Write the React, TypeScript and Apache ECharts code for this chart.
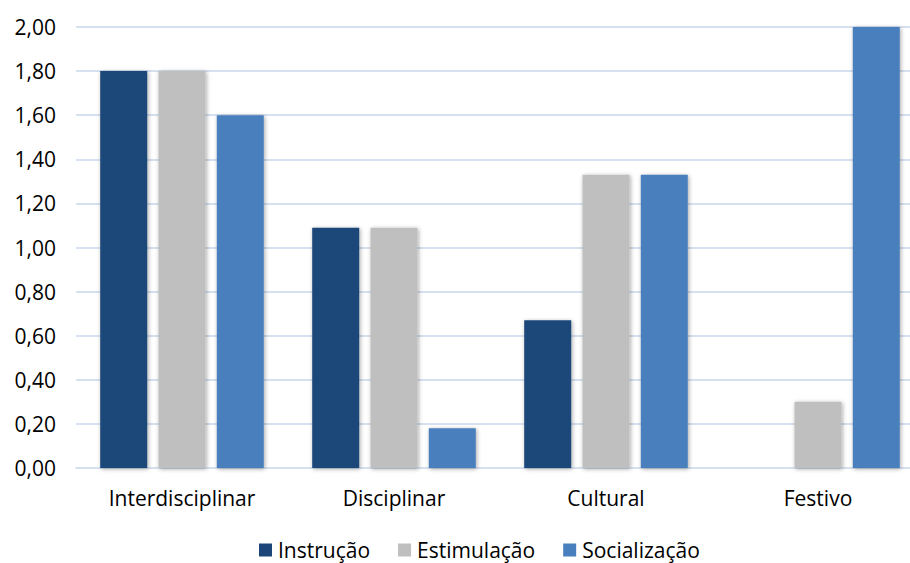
import React, { useEffect, useRef } from "react";
import * as echarts from "echarts";

const categories = ["Interdisciplinar", "Disciplinar", "Cultural", "Festivo"];
const seriesNames = ["Instrução", "Estimulação", "Socialização"];
const instrucao = [1.8, 1.09, 0.67, 0];
const estimulacao = [1.8, 1.09, 1.33, 0.3];
const socializacao = [1.6, 0.18, 1.33, 2.0];
const colors = ["#1C4679", "#BFBFBF", "#4A7FBD"];

export default function App() {
  const ref = useRef<HTMLDivElement>(null);
  useEffect(() => {
    document.body.style.margin = "0";
    const chart = echarts.init(ref.current!, null, { renderer: "svg" });
    const font = "Open Sans";
    const shadow = {
      shadowBlur: 4,
      shadowColor: "rgba(0,0,0,0.35)",
      shadowOffsetX: 1,
      shadowOffsetY: 1,
    };
    const data = [instrucao, estimulacao, socializacao];
    chart.setOption({
      animation: false,
      backgroundColor: "#ffffff",
      textStyle: { fontFamily: font },
      grid: { left: 76, top: 27, width: 848, height: 441, containLabel: false },
      legend: {
        top: 539,
        left: 259,
        padding: 0,
        itemWidth: 13,
        itemHeight: 13,
        itemGap: 28,
        icon: "rect",
        textStyle: {
          fontFamily: font,
          fontSize: 21,
          lineHeight: 22,
          color: "#000",
          padding: [0, 0, 0, 1],
        },
        data: seriesNames,
      },
      xAxis: {
        type: "category",
        data: categories,
        axisLine: { show: true, lineStyle: { color: "#D6E1F0", width: 2 } },
        axisTick: { show: false },
        axisLabel: { fontFamily: font, fontSize: 21, color: "#000", margin: 19 },
      },
      yAxis: {
        type: "value",
        min: 0,
        max: 2,
        interval: 0.2,
        axisLine: { show: false },
        axisTick: { show: false },
        splitLine: { lineStyle: { color: "#D6E1F0", width: 2 } },
        axisLabel: {
          fontFamily: font,
          fontSize: 21,
          color: "#000",
          margin: 20,
          formatter: (v: number) => v.toFixed(2).replace(".", ","),
        },
      },
      series: seriesNames.map((name, i) => ({
        name,
        type: "bar",
        data: data[i],
        barWidth: 47,
        barGap: "24%",
        itemStyle: { color: colors[i], ...shadow },
      })),
    });
    return () => chart.dispose();
  }, []);
  return (
    <div style={{ width: 910, height: 563, overflow: "hidden" }}>
      <div ref={ref} style={{ width: 940, height: 563 }} />
    </div>
  );
}
